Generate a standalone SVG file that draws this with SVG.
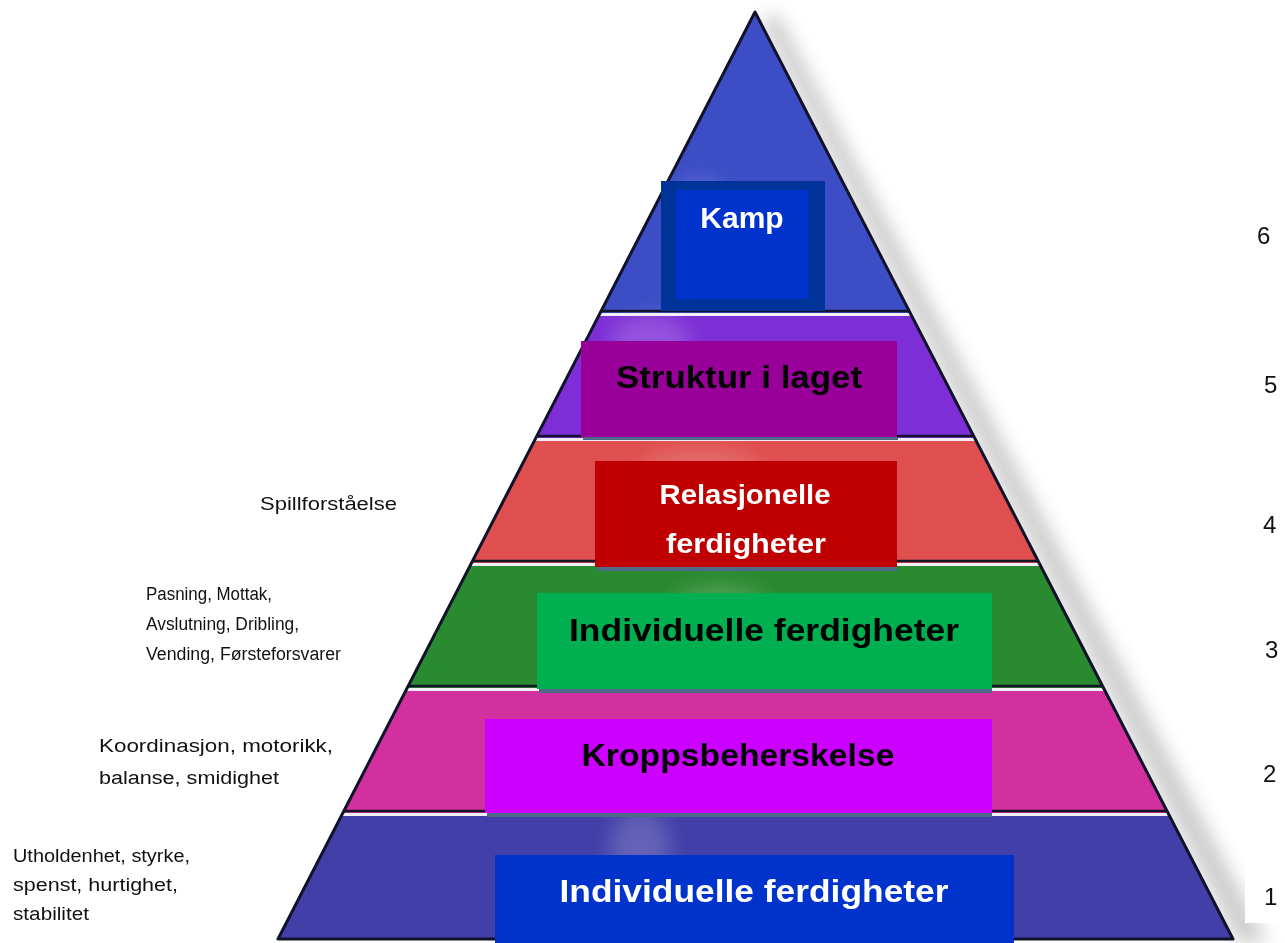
<svg xmlns="http://www.w3.org/2000/svg" width="1285" height="943" viewBox="0 0 1285 943">
<defs>
<style>
.lbl{font-family:"Liberation Sans",Arial,sans-serif;font-size:18px;fill:#111}
.num{font-family:"Liberation Sans",Arial,sans-serif;font-size:24px;fill:#111}
.bt{font-family:"Liberation Sans",Arial,sans-serif;font-weight:bold;text-anchor:middle}
.sepD{stroke:#141428;stroke-width:2.5}
.sepL{stroke:#f2eef4;stroke-width:3}
.shad{fill:#4d6a88}
.ghost{fill:#ffffff;opacity:0.18}
</style>
<clipPath id="tri"><polygon points="755,12 278,939 1233,939"/></clipPath>
<filter id="blur" x="-30%" y="-20%" width="160%" height="140%"><feGaussianBlur stdDeviation="9"/></filter>
<filter id="soft" x="-50%" y="-50%" width="200%" height="200%"><feGaussianBlur stdDeviation="10"/></filter>
</defs>
<rect width="1285" height="943" fill="#ffffff"/>
<polygon points="760,20 1238,943 1268,943 778,14" fill="#909090" opacity="0.45" filter="url(#blur)"/>
<g id="pyramid">
<g clip-path="url(#tri)">
<rect x="250" y="0" width="1010" height="313" fill="#3c4dc6"/>
<rect x="250" y="313" width="1010" height="125" fill="#7d2ed6"/>
<rect x="250" y="438" width="1010" height="125" fill="#e04f4f"/>
<rect x="250" y="563" width="1010" height="125" fill="#2a8a30"/>
<rect x="250" y="688" width="1010" height="125" fill="#d2309e"/>
<rect x="250" y="813" width="1010" height="130" fill="#4240a8"/>
<g filter="url(#soft)">
<ellipse class="ghost" cx="700" cy="200" rx="25" ry="22"/>
<ellipse class="ghost" cx="650" cy="340" rx="40" ry="25"/>
<ellipse class="ghost" cx="700" cy="470" rx="60" ry="20"/>
<ellipse class="ghost" cx="720" cy="610" rx="50" ry="25"/>
<ellipse class="ghost" cx="640" cy="850" rx="30" ry="40"/>
</g>
<line class="sepD" x1="250" y1="311" x2="1260" y2="311"/>
<line class="sepL" x1="250" y1="314.5" x2="1260" y2="314.5"/>
<line class="sepD" x1="250" y1="436" x2="1260" y2="436"/>
<line class="sepL" x1="250" y1="439.5" x2="1260" y2="439.5"/>
<line class="sepD" x1="250" y1="561" x2="1260" y2="561"/>
<line class="sepL" x1="250" y1="564.5" x2="1260" y2="564.5"/>
<line class="sepD" x1="250" y1="686" x2="1260" y2="686"/>
<line class="sepL" x1="250" y1="689.5" x2="1260" y2="689.5"/>
<line class="sepD" x1="250" y1="811" x2="1260" y2="811"/>
<line class="sepL" x1="250" y1="814.5" x2="1260" y2="814.5"/>
</g>
<polygon points="755,12 278,939 1233,939" fill="none" stroke="#10122a" stroke-width="3" stroke-linejoin="round"/>
</g>
<g id="node-kamp">
<rect x="661" y="181" width="164" height="130" fill="#003399"/>
<rect x="676" y="190" width="132" height="109" fill="#0033cc"/>
<text class="bt" x="742" y="228" font-size="30" fill="#ffffff">Kamp</text>
</g>
<g id="node-struktur">
<rect class="shad" x="583" y="437" width="315" height="3"/>
<rect x="581" y="341" width="316" height="96" fill="#990099"/>
<text class="bt" x="739" y="388" font-size="32" fill="#000000" textLength="246" lengthAdjust="spacingAndGlyphs">Struktur i laget</text>
</g>
<g id="node-relasjonelle">
<rect class="shad" x="597" y="567" width="300" height="4"/>
<rect x="595" y="461" width="302" height="106" fill="#c00000"/>
<text class="bt" x="745" y="504" font-size="28" fill="#ffffff" textLength="171" lengthAdjust="spacingAndGlyphs">Relasjonelle</text>
<text class="bt" x="746" y="553" font-size="28" fill="#ffffff" textLength="160" lengthAdjust="spacingAndGlyphs">ferdigheter</text>
</g>
<g id="node-individuelle-3">
<rect class="shad" x="539" y="689" width="453" height="4"/>
<rect x="537" y="593" width="455" height="96" fill="#00b050"/>
<text class="bt" x="764" y="641" font-size="32" fill="#000000" textLength="390" lengthAdjust="spacingAndGlyphs">Individuelle ferdigheter</text>
</g>
<g id="node-kropps">
<rect class="shad" x="487" y="813" width="505" height="4"/>
<rect x="485" y="719" width="507" height="94" fill="#cc00ff"/>
<text class="bt" x="738" y="766" font-size="32" fill="#000000" textLength="313" lengthAdjust="spacingAndGlyphs">Kroppsbeherskelse</text>
</g>
<g id="node-individuelle-1">
<rect x="495" y="855" width="519" height="88" fill="#0033cc"/>
<text class="bt" x="754" y="902" font-size="32" fill="#ffffff" textLength="389" lengthAdjust="spacingAndGlyphs">Individuelle ferdigheter</text>
</g>
<g id="levels">
<rect x="1245" y="850" width="40" height="73" fill="#ffffff"/>
<text class="num" x="1257" y="244">6</text>
<text class="num" x="1264" y="393">5</text>
<text class="num" x="1263" y="533">4</text>
<text class="num" x="1265" y="658">3</text>
<text class="num" x="1263" y="782">2</text>
<text class="num" x="1264" y="905">1</text>
</g>
<g id="side-labels">
<text class="lbl" x="260" y="510" font-size="19" textLength="137" lengthAdjust="spacingAndGlyphs">Spillforståelse</text>
<text class="lbl" x="146" y="600" textLength="126" lengthAdjust="spacingAndGlyphs">Pasning, Mottak,</text>
<text class="lbl" x="146" y="630" textLength="153" lengthAdjust="spacingAndGlyphs">Avslutning, Dribling,</text>
<text class="lbl" x="146" y="660" textLength="195" lengthAdjust="spacingAndGlyphs">Vending,  Førsteforsvarer</text>
<text class="lbl" x="99" y="752" font-size="19" textLength="234" lengthAdjust="spacingAndGlyphs">Koordinasjon, motorikk,</text>
<text class="lbl" x="99" y="784" font-size="19" textLength="180" lengthAdjust="spacingAndGlyphs">balanse, smidighet</text>
<text class="lbl" x="13" y="862" textLength="177" lengthAdjust="spacingAndGlyphs">Utholdenhet, styrke,</text>
<text class="lbl" x="13" y="891" textLength="165" lengthAdjust="spacingAndGlyphs">spenst, hurtighet,</text>
<text class="lbl" x="13" y="920" textLength="76" lengthAdjust="spacingAndGlyphs">stabilitet</text>
</g>
</svg>
